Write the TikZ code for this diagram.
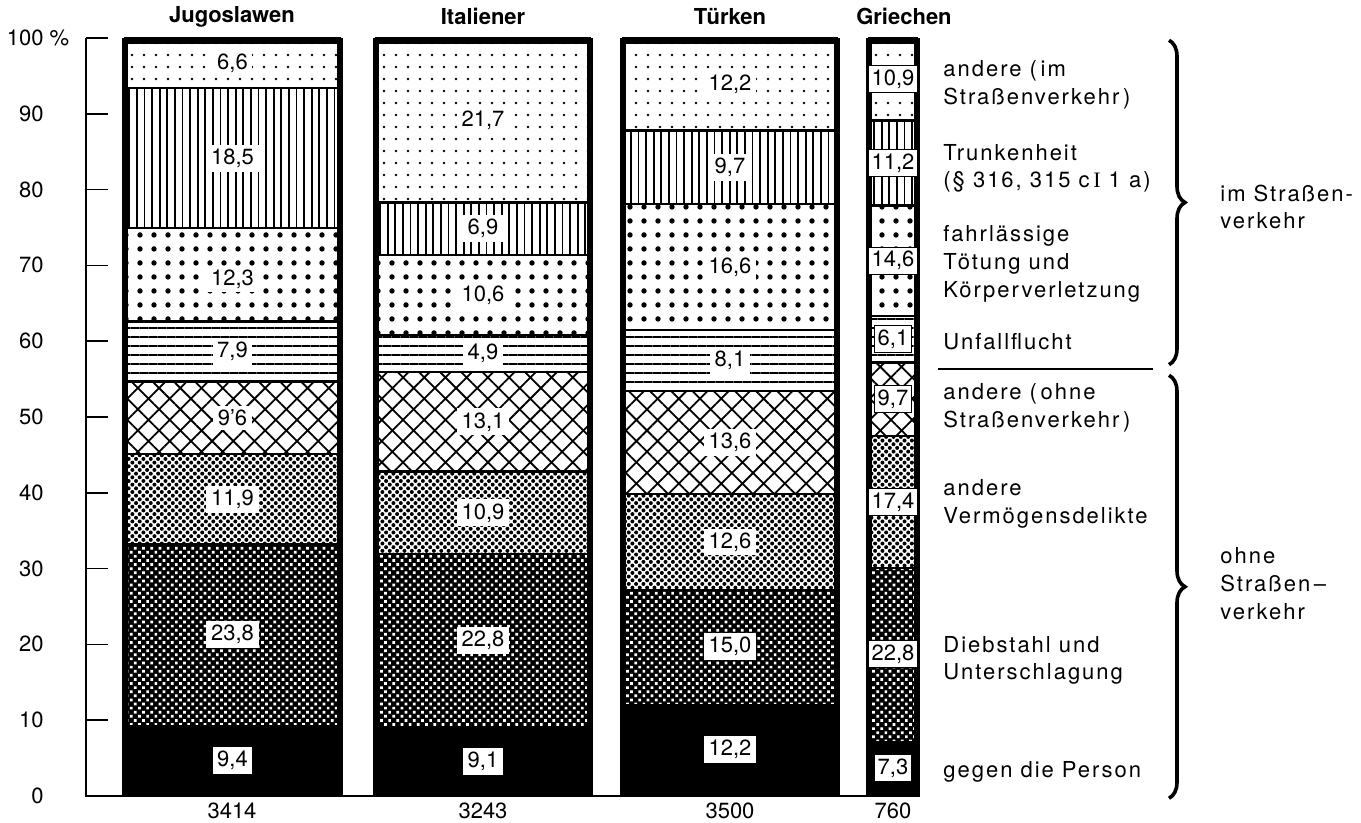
\documentclass[tikz,border=0pt]{standalone}
\usepackage{fontspec}
\setmainfont{TeX Gyre Heros}
\newfontfamily\catfont[LetterSpace=9]{TeX Gyre Heros}
\newfontfamily\romanI{Liberation Serif}
\usetikzlibrary{patterns.meta,decorations.pathreplacing}

\begin{document}
\begin{tikzpicture}[x=0.5pt,y=3.79pt,
  seg/.style={draw=black,line width=1.2pt},
  outline/.style={draw=black,line width=3pt},
  fine/.style={pattern={Dots[distance=6pt,radius=0.7pt]}},
  vert/.style={pattern={Lines[angle=90,distance=3.8pt,line width=0.9pt]}},
  bigdots/.style={pattern={Dots[distance=7pt,radius=1.35pt]}},
  horiz/.style={pattern={Lines[angle=0,distance=4.5pt,line width=0.9pt]}},
  hatch/.style={pattern={Hatch[angle=45,distance=7.5pt,line width=0.9pt]}},
  halftone/.style={pattern={Dots[angle=45,distance=2.6pt,radius=1pt]}},
  darktone/.style={fill=black,postaction={pattern={Dots[angle=45,distance=2.9pt,radius=0.95pt]},pattern color=white}},
  solid/.style={fill=black},
  val/.style={fill=white,inner xsep=2.3pt,inner ysep=2pt,font=\fontsize{11}{13}\selectfont},
  valg/.style={val,inner xsep=1.5pt,draw=black,line width=0.4pt},
  axl/.style={anchor=east,inner sep=0pt,font=\fontsize{11}{13}\selectfont},
  head/.style={font=\fontsize{11}{13}\selectfont\bfseries},
  total/.style={font=\fontsize{11}{13}\selectfont},
  cat/.style={anchor=west,align=left,inner sep=0pt,font=\catfont\fontsize{11}{13.8}\selectfont},
  brace/.style={decorate,decoration={brace,amplitude=8pt},line width=1.8pt}
]
\useasboundingbox (0,-3.56) rectangle (1361,105.01);

% axis
\draw[line width=0.8pt] (86,100) -- (86,0) -- (920,0);
\foreach \t in {0,10,...,100}
  \draw[line width=0.8pt] (86,\t) -- (108,\t);
\node[axl] (y100) at (44,100) {100\rlap{ \%}};
\node[axl] (y90) at (44,90) {90};
\node[axl] (y80) at (44,80) {80};
\node[axl] (y70) at (44,70) {70};
\node[axl] (y60) at (44,60) {60};
\node[axl] (y50) at (44,50) {50};
\node[axl] (y40) at (44,40) {40};
\node[axl] (y30) at (44,30) {30};
\node[axl] (y20) at (44,20) {20};
\node[axl] (y10) at (44,10) {10};
\node[axl] (y0) at (44,0) {0};

% Jugoslawen
\path[seg,solid] (125,0) rectangle (340,9.4);
\path[seg,darktone] (125,9.4) rectangle (340,33.2);
\path[seg,halftone] (125,33.2) rectangle (340,45.1);
\path[seg,hatch] (125,45.1) rectangle (340,54.7);
\path[seg,horiz] (125,54.7) rectangle (340,62.6);
\path[seg,bigdots] (125,62.6) rectangle (340,74.9);
\path[seg,vert] (125,74.9) rectangle (340,93.4);
\path[seg,fine] (125,93.4) rectangle (340,100);
\path[outline] (125,0) -- (125,99.6) -- (340,99.6) -- (340,0);
\node[val] (j1) at (232.5,4.7) {9,4};
\node[val] (j2) at (232.5,21.3) {23,8};
\node[val] (j3) at (232.5,39.15) {11,9};
\node[val] (j4) at (232.5,49.9) {9'6};
\node[val] (j5) at (232.5,58.65) {7,9};
\node[val] (j6) at (232.5,68.2) {12,3};
\node[val] (j7) at (232.5,84.15) {18,5};
\node[val] (j8) at (232.5,96.7) {6,6};

% Italiener
\path[seg,solid] (376,0) rectangle (590,9.1);
\path[seg,darktone] (376,9.1) rectangle (590,31.9);
\path[seg,halftone] (376,31.9) rectangle (590,42.8);
\path[seg,hatch] (376,42.8) rectangle (590,55.9);
\path[seg,horiz] (376,55.9) rectangle (590,60.8);
\path[seg,bigdots] (376,60.8) rectangle (590,71.4);
\path[seg,vert] (376,71.4) rectangle (590,78.3);
\path[seg,fine] (376,78.3) rectangle (590,100);
\path[outline] (376,0) -- (376,99.6) -- (590,99.6) -- (590,0);
\node[val] (i1) at (483,4.55) {9,1};
\node[val] (i2) at (483,20.5) {22,8};
\node[val] (i3) at (483,37.35) {10,9};
\node[val] (i4) at (483,49.35) {13,1};
\node[val] (i5) at (483,58.35) {4,9};
\node[val] (i6) at (483,66.1) {10,6};
\node[val] (i7) at (483,74.85) {6,9};
\node[val] (i8) at (483,89.15) {21,7};

% Tuerken
\path[seg,solid] (623,0) rectangle (837,12.2);
\path[seg,darktone] (623,12.2) rectangle (837,27.2);
\path[seg,halftone] (623,27.2) rectangle (837,39.8);
\path[seg,hatch] (623,39.8) rectangle (837,53.4);
\path[seg,horiz] (623,53.4) rectangle (837,61.5);
\path[seg,bigdots] (623,61.5) rectangle (837,78.1);
\path[seg,vert] (623,78.1) rectangle (837,87.8);
\path[seg,fine] (623,87.8) rectangle (837,100);
\path[outline] (623,0) -- (623,99.6) -- (837,99.6) -- (837,0);
\node[val] (t1) at (730,6.1) {12,2};
\node[val] (t2) at (730,19.7) {15,0};
\node[val] (t3) at (730,33.5) {12,6};
\node[val] (t4) at (730,46.6) {13,6};
\node[val] (t5) at (730,57.45) {8,1};
\node[val] (t6) at (730,69.8) {16,6};
\node[val] (t7) at (730,82.95) {9,7};
\node[val] (t8) at (730,93.9) {12,2};

% Griechen
\path[seg,solid] (869,0) rectangle (917,7.3);
\path[seg,darktone] (869,7.3) rectangle (917,30.1);
\path[seg,halftone] (869,30.1) rectangle (917,47.5);
\path[seg,hatch] (869,47.5) rectangle (917,57.2);
\path[seg,horiz] (869,57.2) rectangle (917,63.3);
\path[seg,bigdots] (869,63.3) rectangle (917,77.9);
\path[seg,vert] (869,77.9) rectangle (917,89.1);
\path[seg,fine] (869,89.1) rectangle (917,100);
\path[outline] (869,0) -- (869,99.6) -- (917,99.6) -- (917,0);
\node[valg] (g1) at (893,3.65) {7,3};
\node[valg] (g2) at (893,18.7) {22,8};
\node[valg] (g3) at (893,38.8) {17,4};
\node[valg] (g4) at (893,52.35) {9,7};
\node[valg] (g5) at (893,60.25) {6,1};
\node[valg] (g6) at (893,70.6) {14,6};
\node[valg] (g7) at (893,83.5) {11,2};
\node[valg] (g8) at (893,94.55) {10,9};

% headings and totals
\node[head] (hj) at (232,102.8) {Jugoslawen};
\node[head] (hi) at (483,102.8) {Italiener};
\node[head] (ht) at (730,102.8) {Türken};
\node[head] (hg) at (904,102.8) {Griechen};
\node[total] (nj) at (232,-2.0) {3414};
\node[total] (ni) at (483,-2.0) {3243};
\node[total] (nt) at (730,-2.0) {3500};
\node[total] (ng) at (893,-2.0) {760};

% categories
\node[cat] (c8) at (943,93.8) {andere (\,im\\Straßenverkehr\,)};
\node[cat] (c7) at (943,82.8) {Trunkenheit\\(§ 316, 315 c\,{\romanI I} 1 a)};
\node[cat] (c6) at (943,70.2) {fahrlässige\\Tötung und\\Körperverletzung};
\node[cat] (c5) at (943,59.9) {Unfallflucht};
\node[cat] (c4) at (943,51.2) {andere (\,ohne\\Straßenverkehr\,)};
\node[cat] (c3) at (943,38.5) {andere\\Vermögensdelikte};
\node[cat] (c2) at (943,17.9) {Diebstahl und\\Unterschlagung};
\node[cat] (c1) at (943,3.2) {gegen die Person};
\draw[line width=0.8pt] (938,56.3) -- (1153,56.3);

% groups
\draw[brace] (1169,99.7) -- (1169,56.9);
\draw[brace] (1169,55.5) -- (1169,-0.3);
\node[cat] (im) at (1220,77.7) {im Straßen-\\verkehr};
\node[cat] (ohne) at (1220,28.0) {ohne\\Straßen\,–\\verkehr};
\end{tikzpicture}
\end{document}
